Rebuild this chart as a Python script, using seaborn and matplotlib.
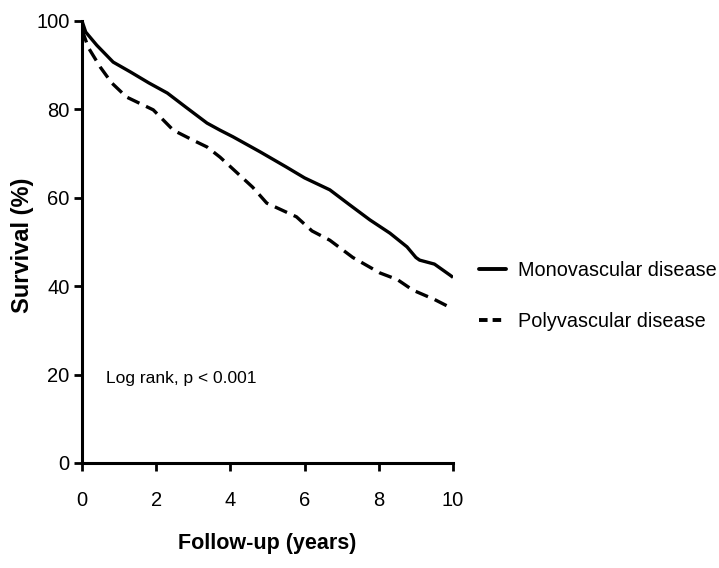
import matplotlib
matplotlib.use("Agg")
import matplotlib.pyplot as plt
import seaborn as sns
import pandas as pd

# Kaplan-Meier style survival estimates (%) by follow-up year
mono_years = [0, 0.1, 0.4, 0.84, 1.3, 1.8, 2.3, 2.8, 3.37, 3.72, 4.07, 4.8,
              5.5, 6.0, 6.68, 7.2, 7.76, 8.3, 8.76, 9.0, 9.1, 9.5, 9.92, 10]
mono_surv = [100, 97.5, 94.5, 90.7, 88.5, 86, 83.7, 80.5, 76.9, 75.3, 73.8, 70.4,
             67, 64.5, 61.8, 58.5, 55, 52, 48.9, 46.5, 45.9, 45, 42.5, 42]

poly_years = [0, 0.17, 0.49, 0.8, 1.2, 1.92, 2.46, 3.0, 3.37, 3.72, 4.07, 4.6,
              4.98, 5.78, 6.2, 6.68, 7.3, 8.03, 8.5, 8.92, 9.5, 9.92, 10]
poly_surv = [98, 94, 89.6, 86, 82.8, 79.9, 75.3, 73, 71.5, 69.2, 66.5, 62.4,
             58.8, 55.7, 52.5, 50.4, 46.5, 43, 41.5, 39.1, 37, 35.2, 35]

group_names = ["Monovascular disease", "Polyvascular disease"]
x_ticks = [0, 2, 4, 6, 8, 10]
y_ticks = [0, 20, 40, 60, 80, 100]

df = pd.concat([
    pd.DataFrame({"years": mono_years, "survival": mono_surv, "group": group_names[0]}),
    pd.DataFrame({"years": poly_years, "survival": poly_surv, "group": group_names[1]}),
])

sns.set_style("ticks")
plt.rcParams["font.family"] = ["Liberation Sans", "DejaVu Sans"]

fig = plt.figure(figsize=(7.19, 5.68), dpi=100)
ax = fig.add_axes([82 / 719, 1 - 463 / 568, (453 - 82) / 719, (463 - 21) / 568])

sns.lineplot(data=df, x="years", y="survival", hue="group", style="group",
             palette=["black", "black"], dashes=[(1, 0), (4, 2.2)],
             linewidth=2.4, ax=ax, legend=False, estimator=None, sort=False)

ax.set_xlim(0, 10)
ax.set_ylim(0, 100)
ax.set_xticks(x_ticks)
ax.set_yticks(y_ticks)
ax.tick_params(axis="both", length=6, width=2, labelsize=14.5, colors="black")
ax.tick_params(axis="x", pad=14)
ax.tick_params(axis="y", pad=3)
for side in ["left", "bottom"]:
    ax.spines[side].set_linewidth(2.2)
    ax.spines[side].set_color("black")
for side in ["top", "right"]:
    ax.spines[side].set_visible(False)

ax.set_xlabel("Follow-up (years)", fontsize=15.5, fontweight="bold", labelpad=17,
              color="black")
ax.set_ylabel("")
fig.text(22 / 719, 1 - 245 / 568, "Survival (%)", rotation=90, fontsize=17,
         fontweight="bold", ha="center", va="center", color="black")

ax.text(0.65, 19.2, "Log rank, p < 0.001", fontsize=12.5, va="center", ha="left",
        color="black")

handles = [
    plt.Line2D([], [], color="black", linewidth=2.8),
    plt.Line2D([], [], color="black", linewidth=2.8, dashes=(2.2, 1.3)),
]
leg = fig.legend(handles, group_names, loc="center left",
                 bbox_to_anchor=(479 / 719, 1 - 296 / 568),
                 frameon=False, fontsize=14.3, handlelength=1.35, handletextpad=0.6,
                 labelspacing=1.6, borderpad=0, borderaxespad=0)
for t in leg.get_texts():
    t.set_color("black")

fig.savefig("out.png", dpi=100)
